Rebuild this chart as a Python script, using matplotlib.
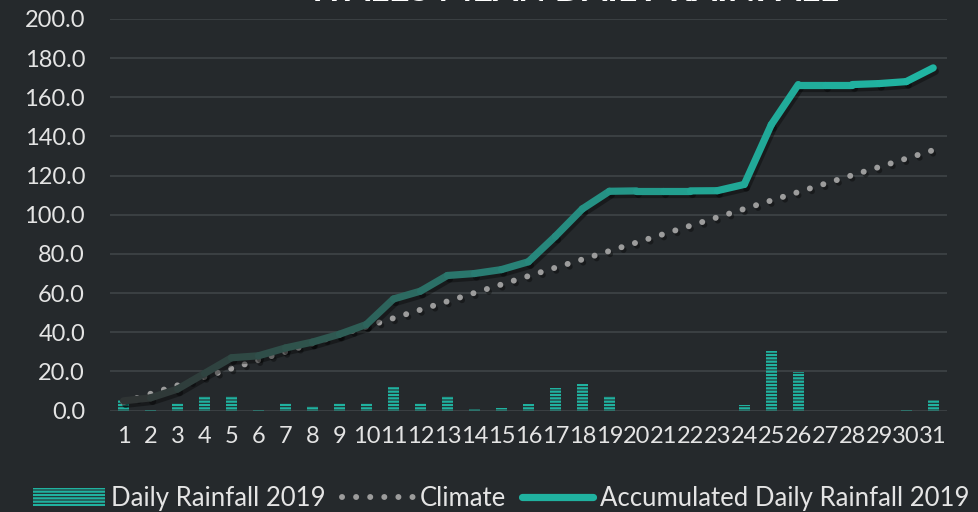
import matplotlib
matplotlib.use("Agg")
import matplotlib.pyplot as plt
import matplotlib.patheffects as pe
from matplotlib.collections import LineCollection
from matplotlib.colors import LinearSegmentedColormap
from matplotlib.lines import Line2D
from matplotlib.patches import Patch
import numpy as np

days = list(range(1, 32))
day_labels = [str(d) for d in days]

daily_2019 = [5.5, 0.5, 3.9, 7.5, 7.6, 0.3, 3.9, 2.6, 3.9, 3.9, 11.9, 3.9, 7.6, 0.9, 1.4, 3.4,
              11.7, 13.8, 7.6, 0.0, 0.0, 0.0, 0.0, 2.9, 30.3, 19.7, 0.0, 0.0, 0.0, 0.5, 5.4]

climate = [4.3, 8.6, 12.9, 17.2, 21.5, 25.8, 30.0, 34.3, 38.6, 42.9, 47.2, 51.5, 55.8, 60.1,
           64.4, 68.7, 73.0, 77.2, 81.5, 85.8, 90.1, 94.4, 98.7, 103.0, 107.3, 111.6, 115.9,
           120.2, 124.4, 128.7, 133.0]

accumulated_2019 = [5.0, 6.5, 11.0, 19.0, 27.0, 28.0, 32.0, 35.0, 39.0, 44.0, 57.0, 61.0, 69.0,
                    70.0, 72.0, 76.0, 89.0, 103.0, 112.0, 112.2, 112.2, 112.2, 112.3, 115.5,
                    146.0, 166.5, 166.5, 166.5, 167.0, 168.0, 175.0]

y_ticks = [0, 20, 40, 60, 80, 100, 120, 140, 160, 180, 200]

BG = "#25292c"
TEAL = "#20b2a0"
GRID = "#3a3f42"
TEXT = "#e4e4e4"

plt.rcParams["font.family"] = ["Lato", "DejaVu Sans"]
plt.rcParams["hatch.linewidth"] = 1.6

fig = plt.figure(figsize=(9.79, 5.12), dpi=100, facecolor=BG)
ax = fig.add_axes([0.1124, 0.198, 0.8546, 0.765])
ax.set_facecolor(BG)

shadow = [pe.SimpleLineShadow(offset=(1.5, -2), shadow_color="black", alpha=0.35), pe.Normal()]

# daily bars, striped
ax.bar(days, daily_2019, width=0.42, facecolor="none", edgecolor=TEAL, hatch="-----",
       linewidth=0, zorder=3)

# climate, dotted
ax.plot(days, climate, color="#9c9c9c", linewidth=4.3, linestyle=(0, (0.01, 2.35)),
        dash_capstyle="round", zorder=4, path_effects=shadow)

# accumulated, gradient from dark to teal
pts = np.column_stack([days, accumulated_2019])
segs = np.stack([pts[:-1], pts[1:]], axis=1)
cmap = LinearSegmentedColormap.from_list(
    "acc", ["#2f3434", "#2f5a52", "#27857a", "#21a796", "#20b4a2"])
seg_colors = cmap(np.linspace(0, 1, len(segs)))
lc = LineCollection(segs, colors=seg_colors, linewidths=5.2, capstyle="round",
                    joinstyle="round", zorder=5,
                    path_effects=[pe.SimpleLineShadow(offset=(1.5, -2.5), shadow_color="black",
                                                      alpha=0.35), pe.Normal()])
ax.add_collection(lc)

ax.set_xlim(0.5, 31.5)
ax.set_ylim(0, 200)
ax.set_yticks(y_ticks)
ax.set_yticklabels([f"{v:.1f}" for v in y_ticks])
ax.set_xticks(days)
ax.set_xticklabels(day_labels)
ax.grid(axis="y", color=GRID, linewidth=1.5, zorder=0)
ax.set_axisbelow(True)
for s in ax.spines.values():
    s.set_visible(False)
ax.tick_params(axis="both", length=0, colors=TEXT, labelsize=17)
ax.tick_params(axis="x", pad=11)
ax.tick_params(axis="y", pad=18)

fig.text(0.585, 0.998, "WALES MEAN DAILY RAINFALL", color="white", fontsize=26,
         fontweight="bold", ha="center", va="baseline")

handles = [
    Patch(facecolor="none", edgecolor=TEAL, hatch="-----", linewidth=0),
    Line2D([0], [0], color="#9c9c9c", linewidth=4.3, linestyle=(0, (0.01, 2.35)),
           dash_capstyle="round"),
    Line2D([0], [0], color=TEAL, linewidth=5.2, solid_capstyle="round"),
]
labels = ["Daily Rainfall 2019", "Climate", "Accumulated Daily Rainfall 2019"]
leg = fig.legend(handles, labels, loc="center", bbox_to_anchor=(0.512, 0.027), ncol=3,
                 frameon=False, fontsize=18.5, handlelength=2.8, handleheight=0.7,
                 handletextpad=0.25, columnspacing=0.6, labelcolor=TEXT)

fig.savefig("out.png", dpi=100, facecolor=BG)
